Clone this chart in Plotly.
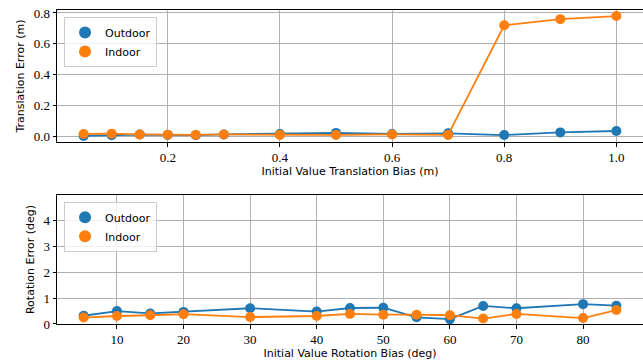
import plotly.graph_objects as go

trans_bias = [0.05, 0.1, 0.15, 0.2, 0.25, 0.3, 0.4, 0.5, 0.6, 0.7, 0.8, 0.9, 1.0]
trans_outdoor = [0.005, 0.01, 0.014, 0.012, 0.01, 0.015, 0.018, 0.025, 0.018, 0.022, 0.011, 0.028, 0.037]
trans_indoor = [0.018, 0.02, 0.015, 0.013, 0.012, 0.015, 0.012, 0.012, 0.015, 0.012, 0.72, 0.76, 0.78]

rot_bias = [5, 10, 15, 20, 30, 40, 45, 50, 55, 60, 65, 70, 80, 85]
rot_outdoor = [0.32, 0.5, 0.41, 0.47, 0.61, 0.48, 0.62, 0.63, 0.26, 0.19, 0.70, 0.61, 0.77, 0.71]
rot_indoor = [0.25, 0.31, 0.34, 0.38, 0.27, 0.31, 0.39, 0.36, 0.36, 0.34, 0.21, 0.39, 0.23, 0.54]

BLUE = "#1f77b4"
ORANGE = "#ff7f0e"
SANS = "DejaVu Sans"
SERIF = "Liberation Serif"

fig = go.Figure()

def add(x, y, color, xa, ya):
    fig.add_trace(go.Scatter(x=x, y=y, mode="lines+markers", xaxis=xa, yaxis=ya,
                             line=dict(color=color, width=1.8),
                             marker=dict(color=color, size=10), showlegend=False))

add(trans_bias, trans_outdoor, BLUE, "x", "y")
add(trans_bias, trans_indoor, ORANGE, "x", "y")
add(rot_bias, rot_outdoor, BLUE, "x2", "y2")
add(rot_bias, rot_indoor, ORANGE, "x2", "y2")

# legend-only marker entries
for name, color, leg, xa, ya in [("Outdoor", BLUE, "legend", "x", "y"), ("Indoor", ORANGE, "legend", "x", "y"),
                                 ("Outdoor", BLUE, "legend2", "x2", "y2"), ("Indoor", ORANGE, "legend2", "x2", "y2")]:
    fig.add_trace(go.Scatter(x=[None], y=[None], mode="markers", name=name, legend=leg,
                             xaxis=xa, yaxis=ya, marker=dict(color=color, size=10)))

axis_common = dict(showgrid=True, gridcolor="#b0b0b0", gridwidth=1, showline=True, linecolor="black",
                   linewidth=1, mirror=True, ticks="outside", ticklen=3.5, tickcolor="black",
                   tickfont=dict(family=SERIF, size=13, color="black"), zeroline=False, automargin=False,
                   ticklabeloverflow="allow")

tfont = dict(family=SANS, size=11, color="black")

fig.update_layout(
    width=643, height=362,
    margin=dict(l=57, r=0, t=10, b=38),
    plot_bgcolor="white", paper_bgcolor="white",
    xaxis=dict(domain=[0, 1], anchor="y", range=[0.0025, 1.0475], tickvals=[0.2, 0.4, 0.6, 0.8, 1.0],
               ticktext=["0.2", "0.4", "0.6", "0.8", "1.0"],
               title=dict(text="Initial Value Translation Bias (m)", font=tfont, standoff=2),
               **axis_common),
    yaxis=dict(domain=[0.5796, 1], anchor="x", range=[-0.034, 0.819], tickvals=[0, 0.2, 0.4, 0.6, 0.8],
               ticktext=["0.0", "0.2", "0.4", "0.6", "0.8"],
               title=dict(text="Translation Error (m)", font=tfont, standoff=6),
               **axis_common),
    xaxis2=dict(domain=[0, 1], anchor="y2", range=[1, 89], tickvals=[10, 20, 30, 40, 50, 60, 70, 80],
                title=dict(text="Initial Value Rotation Bias (deg)", font=tfont, standoff=2),
                **axis_common),
    yaxis2=dict(domain=[0, 0.4108], anchor="x2", range=[0, 5], tickvals=[0, 1, 2, 3, 4],
                title=dict(text="Rotation Error (deg)", font=tfont, standoff=6),
                **axis_common),
    legend=dict(x=0.012, y=0.978, xanchor="left", yanchor="top", bgcolor="rgba(255,255,255,0.8)",
                bordercolor="#cccccc", borderwidth=1, font=dict(family=SANS, size=11, color="black"),
                itemsizing="constant", tracegroupgap=0),
    legend2=dict(x=0.012, y=0.389, xanchor="left", yanchor="top", bgcolor="rgba(255,255,255,0.8)",
                 bordercolor="#cccccc", borderwidth=1, font=dict(family=SANS, size=11, color="black"),
                 itemsizing="constant", tracegroupgap=0),
)

fig.write_html("out.html", config={"displayModeBar": False},
               post_script="document.body.style.margin='0';document.body.style.overflow='hidden';")
